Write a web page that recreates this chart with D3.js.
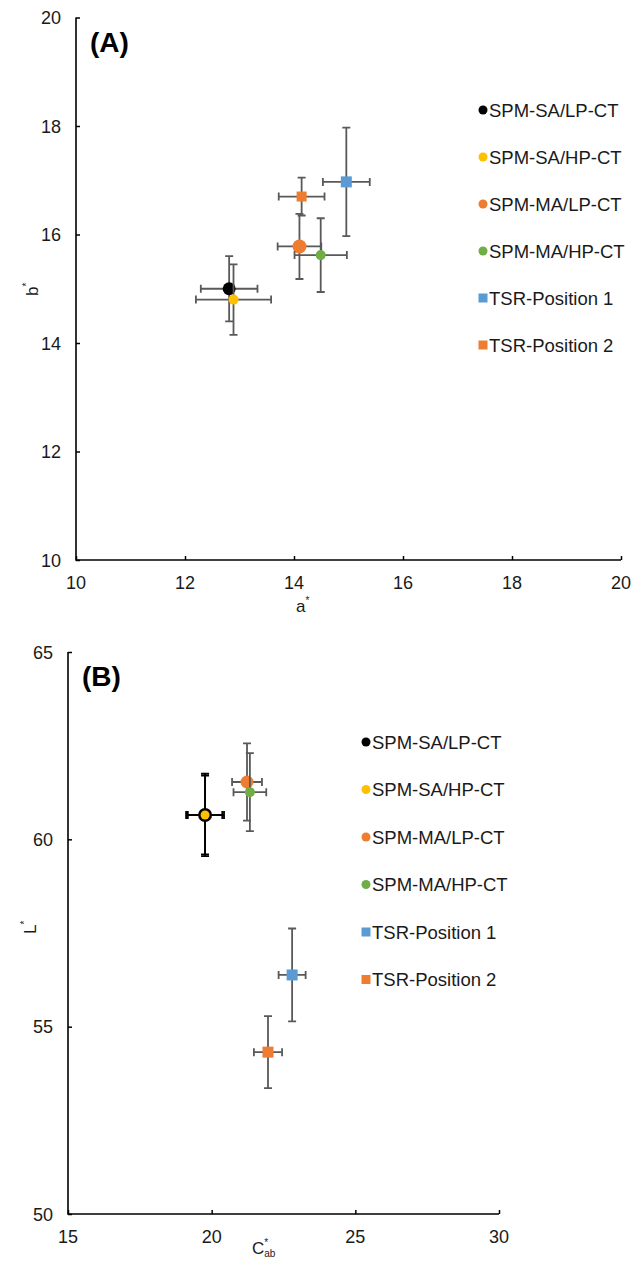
<!DOCTYPE html>
<html>
<head>
<meta charset="utf-8">
<script src="https://cdn.jsdelivr.net/npm/d3@7"></script>
<style>
  html, body { margin: 0; padding: 0; background: #fff; }
  svg { display: block; font-family: "Liberation Sans", Arial, sans-serif; }
</style>
</head>
<body>
<div id="chart"></div>
<script>
// series, in legend order
const seriesNames = ["SPM-SA/LP-CT", "SPM-SA/HP-CT", "SPM-MA/LP-CT", "SPM-MA/HP-CT", "TSR-Position 1", "TSR-Position 2"];
const seriesShapes = ["circle", "circle", "circle", "circle", "square", "square"];

// panel A: a* vs b*
const aStar    = [12.81, 12.89, 14.10, 14.49, 14.96, 14.14];
const aStarErr = [0.52, 0.69, 0.40, 0.48, 0.43, 0.42];
const bStar    = [15.00, 14.80, 15.78, 15.62, 16.97, 16.70];
const bStarErr = [0.60, 0.65, 0.60, 0.68, 1.00, 0.35];
const aTicks = [10, 12, 14, 16, 18, 20];
const bTicks = [10, 12, 14, 16, 18, 20];

// panel B: C*ab vs L*
const cStar    = [19.77, 19.77, 21.23, 21.33, 22.80, 21.96];
const cStarErr = [0.66, 0.60, 0.52, 0.57, 0.47, 0.49];
const lStar    = [60.65, 60.65, 61.53, 61.26, 56.38, 54.32];
const lStarErr = [1.10, 1.05, 1.03, 1.04, 1.24, 0.96];
const cTicks = [15, 20, 25, 30];
const lTicks = [50, 55, 60, 65];

const colors = ["#000000", "#FFC000", "#ED7D31", "#70AD47", "#5B9BD5", "#ED7D31"];
const markerR = {A: [6.5, 5, 7, 5, 5.5, 5], B: [7, 4.5, 6.5, 5, 5.5, 5.5]};

const W = 636, H = 1261;
const svg = d3.select("#chart").append("svg")
    .attr("width", W)
    .attr("height", H);

function drawPanel(cfg) {
    const x = d3.scaleLinear().domain(cfg.xDomain).range([cfg.left, cfg.right]);
    const y = d3.scaleLinear().domain(cfg.yDomain).range([cfg.bottom, cfg.top]);
    const g = svg.append("g");

    // axes, ticks inside
    g.append("g")
        .attr("transform", `translate(0,${cfg.bottom})`)
        .call(d3.axisTop(x).tickValues(cfg.xTicks).tickSize(4).tickFormat(""))
        .call(a => a.select(".domain").remove())
        .call(a => a.selectAll("line").attr("stroke", "#000").attr("stroke-width", 1.5));
    g.append("g")
        .attr("transform", `translate(${cfg.left},0)`)
        .call(d3.axisRight(y).tickValues(cfg.yTicks).tickSize(4).tickFormat(""))
        .call(a => a.select(".domain").remove())
        .call(a => a.selectAll("line").attr("stroke", "#000").attr("stroke-width", 1.5));
    g.append("path")
        .attr("d", `M${cfg.left},${cfg.top}V${cfg.bottom}H${cfg.right}`)
        .attr("fill", "none")
        .attr("stroke", "#000")
        .attr("stroke-width", 1.6);

    // tick labels
    g.selectAll(".xl").data(cfg.xTicks).join("text")
        .attr("x", d => x(d))
        .attr("y", cfg.bottom + 29)
        .attr("text-anchor", "middle")
        .attr("font-size", 18)
        .attr("fill", "#1a1a1a")
        .text(d => d);
    g.selectAll(".yl").data(cfg.yTicks).join("text")
        .attr("x", cfg.left - 15)
        .attr("y", d => y(d) + 6.5)
        .attr("text-anchor", "end")
        .attr("font-size", 18)
        .attr("fill", "#1a1a1a")
        .text(d => d);

    // panel letter
    g.append("text")
        .attr("x", cfg.left + 14)
        .attr("y", cfg.top + 34)
        .attr("font-size", 28)
        .attr("font-weight", "bold")
        .text(cfg.letter);

    // axis titles
    const xt = g.append("text")
        .attr("x", cfg.xTitleX)
        .attr("y", cfg.xTitleY)
        .attr("font-size", 17)
        .attr("fill", "#1a1a1a");
    xt.append("tspan").text(cfg.xTitle);
    xt.append("tspan").attr("font-size", 10).attr("dy", -8).text("*");
    if (cfg.xSub) xt.append("tspan").attr("font-size", 10).attr("dy", 11).attr("dx", -4).text(cfg.xSub);

    const yt = g.append("text")
        .attr("transform", `translate(${cfg.yTitleX},${cfg.yTitleY}) rotate(-90)`)
        .attr("font-size", 17)
        .attr("fill", "#1a1a1a");
    yt.append("tspan").text(cfg.yTitle);
    yt.append("tspan").attr("font-size", 10).attr("dy", -8).text("*");

    // error bars + markers, series by series
    const cap = 4;
    seriesNames.forEach((name, i) => {
        const cx = x(cfg.xs[i]), cy = y(cfg.ys[i]);
        const x0 = x(cfg.xs[i] - cfg.xe[i]), x1 = x(cfg.xs[i] + cfg.xe[i]);
        const y0 = y(cfg.ys[i] - cfg.ye[i]), y1 = y(cfg.ys[i] + cfg.ye[i]);
        const eb = g.append("g")
            .attr("stroke", cfg.errColor(i))
            .attr("stroke-width", 1.8)
            .attr("fill", "none");
        eb.append("path").attr("d",
            `M${x0},${cy}H${x1}M${x0},${cy - cap}V${cy + cap}M${x1},${cy - cap}V${cy + cap}` +
            `M${cx},${y0}V${y1}M${cx - cap},${y0}H${cx + cap}M${cx - cap},${y1}H${cx + cap}`);

        const r = cfg.r[i];
        if (seriesShapes[i] === "circle") {
            g.append("circle")
                .attr("cx", cx).attr("cy", cy).attr("r", r)
                .attr("fill", colors[i]);
        } else {
            g.append("rect")
                .attr("x", cx - r).attr("y", cy - r)
                .attr("width", 2 * r).attr("height", 2 * r)
                .attr("fill", colors[i]);
        }
    });

    // legend
    const lg = g.append("g");
    seriesNames.forEach((name, i) => {
        const ly = cfg.legY + i * cfg.legStep;
        if (seriesShapes[i] === "circle") {
            lg.append("circle").attr("cx", cfg.legX).attr("cy", ly).attr("r", 4.5).attr("fill", colors[i]);
        } else {
            lg.append("rect").attr("x", cfg.legX - 4.5).attr("y", ly - 4.5)
                .attr("width", 9).attr("height", 9).attr("fill", colors[i]);
        }
        lg.append("text")
            .attr("x", cfg.legX + 6)
            .attr("y", ly + 6.5)
            .attr("font-size", 18.5)
            .attr("fill", "#1a1a1a")
            .text(name);
    });
}

drawPanel({
    letter: "(A)",
    left: 76, right: 621, top: 17.5, bottom: 560,
    xDomain: [10, 20], yDomain: [10, 20],
    xTicks: aTicks, yTicks: bTicks,
    xs: aStar, xe: aStarErr, ys: bStar, ye: bStarErr,
    r: markerR.A,
    errColor: () => "#595959",
    xTitle: "a", xTitleX: 296, xTitleY: 612,
    yTitle: "b", yTitleX: 38, yTitleY: 296,
    legX: 483, legY: 110, legStep: 47
});

drawPanel({
    letter: "(B)",
    left: 68, right: 499, top: 652, bottom: 1214,
    xDomain: [15, 30], yDomain: [50, 65],
    xTicks: cTicks, yTicks: lTicks,
    xs: cStar, xe: cStarErr, ys: lStar, ye: lStarErr,
    r: markerR.B,
    errColor: i => i < 2 ? "#000000" : "#595959",
    xTitle: "C", xSub: "ab", xTitleX: 252, xTitleY: 1254,
    yTitle: "L", yTitleX: 36, yTitleY: 934,
    legX: 366, legY: 742, legStep: 47.5
});
</script>
</body>
</html>
